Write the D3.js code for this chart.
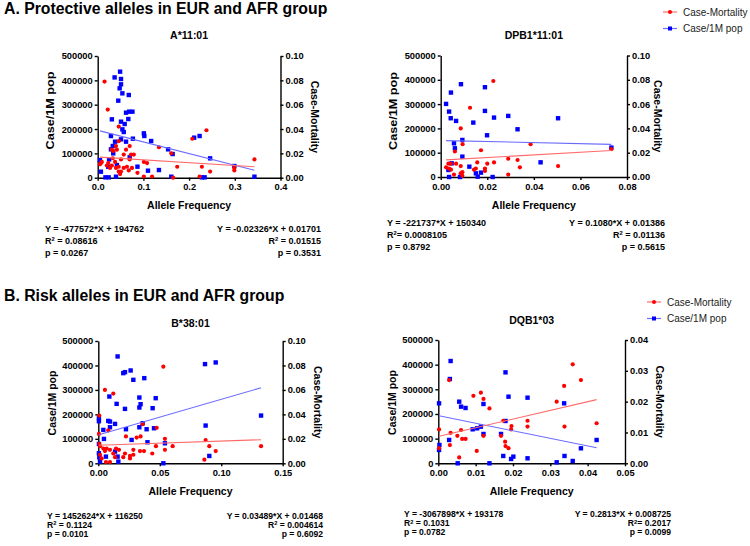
<!DOCTYPE html>
<html>
<head>
<meta charset="utf-8">
<script src="https://cdn.jsdelivr.net/npm/d3@7"></script>
<style>
  body { margin: 0; background: #fff; }
  text { font-family: "Liberation Sans", Arial, sans-serif; fill: #000; }
</style>
</head>
<body>
<svg id="chart" width="750" height="546"></svg>
<script>
// ---- data: [allele frequency, value] ----
const casesA1 = [[0.005,72600],[0.007,24700],[0.017,1400],[0.024,1400],[0.023,45200],[0.037,412000],[0.049,435700],
  [0.051,405500],[0.051,383600],[0.048,367200],[0.054,346600],[0.045,316500],[0.068,339800],[0.031,239800],
  [0.051,230200],[0.059,220600],[0.054,198700],[0.057,187700],[0.029,171300],[0.051,157600],[0.077,160300],
  [0.062,148000],[0.062,267200],[0.069,271300],[0.076,271300],[0.067,241100],[0.033,130200],[0.029,116500],
  [0.034,100000],[0.070,83600],[0.042,52100],[0.040,4100],[0.087,45200],[0.101,182200],[0.102,171300],
  [0.117,150700],[0.110,28800],[0.134,31500],[0.154,116500],[0.164,97300],[0.211,164400],[0.223,171300],
  [0.246,79500],[0.299,48000],[0.343,4100],[0.161,4100],[0.228,1400],[0.234,1400],[0.038,148000],[0.025,75000]];
const mortA1 = [[0.015,0.079],[0.022,0.056],[0.046,0.042],[0.007,0.012],[0.005,0.011],[0.023,0.012],[0.020,0.010],
  [0.031,0.023],[0.034,0.022],[0.040,0.026],[0.042,0.023],[0.046,0.030],[0.062,0.023],[0.070,0.026],[0.073,0.019],
  [0.079,0.019],[0.057,0.019],[0.051,0.015],[0.038,0.013],[0.027,0.008],[0.031,0.010],[0.046,0.009],[0.051,0.005],
  [0.057,0.008],[0.064,0.009],[0.070,0.015],[0.068,0.006],[0.075,0.008],[0.046,0.005],[0.049,0.003],[0.087,0.004],
  [0.101,0.013],[0.108,0.012],[0.101,0.001],[0.119,0.001],[0.134,0.025],[0.174,0.009],[0.161,0.020],[0.165,0.000],
  [0.207,0.032],[0.238,0.039],[0.228,0.009],[0.223,0.001],[0.246,0.005],[0.299,0.008],[0.299,0.006],[0.343,0.015],
  [0.040,0.008],[0.033,0.016],[0.009,0.013]];

const casesA2 = [[0.0023,300800],[0.0036,269200],[0.0044,347500],[0.0043,241800],[0.0066,230800],[0.0087,381900],
  [0.019,369500],[0.019,272000],[0.0229,244500],[0.029,251400],[0.014,223900],[0.033,196400],[0.0199,171700],
  [0.0504,241800],[0.0057,138700],[0.0061,118100],[0.0093,152500],[0.0093,83800],[0.0123,42600],[0.0429,60400],
  [0.0733,120900],[0.0033,28800],[0.0036,0],[0.0083,0],[0.0151,15100],[0.0173,17900],[0.0159,1400],[0.0223,0],
  [0.0047,56300]];
const mortA2 = [[0.0226,0.079],[0.0126,0.057],[0.0086,0.040],[0.0094,0.027],[0.0173,0.022],[0.0061,0.021],
  [0.0386,0.027],[0.0733,0.023],[0.0023,0.008],[0.0033,0.011],[0.0044,0.011],[0.0066,0.011],[0.0086,0.009],
  [0.0036,0.007],[0.0044,0.006],[0.0057,0.002],[0.0086,0.003],[0.0093,0.001],[0.0093,0.004],[0.0157,0.012],
  [0.0143,0.006],[0.019,0.005],[0.019,0.007],[0.020,0.011],[0.0229,0.012],[0.029,0.015],[0.033,0.014],
  [0.034,0.008],[0.0504,0.009],[0.029,0.002],[0.0151,0.007]];

const casesB1 = [[0.0157,436900],[0.0203,368600],[0.0217,372700],[0.0263,379500],[0.0285,341300],[0.0374,348100],
  [0.0868,405500],[0.0955,412300],[0.0090,273000],[0.0334,268900],[0.0467,266200],[0.0149,243000],[0.0344,241600],
  [0.0334,228000],[0.0217,222500],[0.0442,225300],[0.0005,185000],[0.0005,172000],[0.0081,173400],[0.0095,170600],
  [0.0136,161100],[0.0095,147400],[0.0225,139300],[0.0361,163800],[0.0453,143300],[0.0334,147400],[0.0393,139300],
  [0.0041,136500],[0.0046,99700],[0.0271,95600],[0.0400,86000],[0.0542,81900],[0.0873,154300],[0.1324,195200],
  [0.0903,30000],[0.0529,0],[0.0005,41000],[0.0008,24600],[0.0014,6800],[0.0062,27300],[0.0136,47800],
  [0.0163,6800],[0.0157,27300],[0.0005,79200]];
const mortB1 = [[0.0529,0.079],[0.0054,0.060],[0.0122,0.057],[0.0008,0.039],[0.0081,0.027],[0.0361,0.032],
  [0.0475,0.029],[0.0225,0.022],[0.0344,0.022],[0.0312,0.021],[0.0005,0.024],[0.0873,0.019],[0.0542,0.020],
  [0.0008,0.016],[0.0014,0.014],[0.0041,0.012],[0.0068,0.012],[0.0095,0.011],[0.0144,0.012],[0.0168,0.011],
  [0.0217,0.008],[0.0285,0.011],[0.0339,0.010],[0.0372,0.010],[0.0469,0.014],[0.0605,0.014],[0.0542,0.011],
  [0.0439,0.008],[0.0903,0.014],[0.0955,0.010],[0.0863,0.003],[0.1324,0.014],[0.0014,0.007],[0.0027,0.004],
  [0.0062,0.001],[0.0095,0.001],[0.0136,0.005],[0.0203,0.005],[0.0258,0.004],[0.0285,0.007],[0.0122,0.008],
  [0.0054,0.010],[0.0258,0.006]];

const casesB2 = [[0.0033,414800],[0.0031,341800],[0.0002,243200],[0.0056,249900],[0.0061,229700],[0.0073,224300],
  [0.018,368800],[0.0188,270200],[0.0239,266100],[0.0337,243200],[0.0121,240500],[0.018,171600],[0.0092,137800],
  [0.0104,141900],[0.0114,148600],[0.0121,118900],[0.0168,118900],[0.0029,94600],[0.0003,74300],[0.0002,54000],
  [0.0424,94600],[0.0382,60800],[0.0174,29700],[0.0195,17600],[0.0201,27000],[0.0239,20300],[0.0338,29700],
  [0.0317,4100],[0.036,9500],[0.0052,0],[0.0137,0]];
const mortB2 = [[0.036,0.0321],[0.0029,0.0270],[0.0382,0.0270],[0.0337,0.0251],[0.0094,0.0219],[0.0114,0.0229],
  [0.0121,0.0209],[0.0137,0.0178],[0.0317,0.0200],[0.0424,0.0130],[0.0174,0.0138],[0.0239,0.0138],[0.0239,0.0119],
  [0.0338,0.0119],[0.0002,0.0110],[0.0061,0.0108],[0.0033,0.0099],[0.0196,0.0121],[0.0195,0.0110],[0.0121,0.0089],
  [0.0051,0.0089],[0.0064,0.0079],[0.0073,0.0079],[0.0168,0.0089],[0.0179,0.0070],[0.018,0.0056],[0.0188,0.0049],
  [0.0031,0.0059],[0.0002,0.0049],[0.0103,0.0040],[0.0056,0.0019]];

// linear fits [slope, intercept]
const fitsCases = [[-477572, 194762], [-221737, 150340], [1452624, 116250], [-3067898, 193178]];
const fitsMort = [[-0.02326, 0.01701], [0.1080, 0.01386], [0.03489, 0.01468], [0.2813, 0.008725]];

const titles = ["A*11:01", "DPB1*11:01", "B*38:01", "DQB1*03"];
const xMaxes = [0.4, 0.08, 0.15, 0.05];
const xTickSteps = [0.1, 0.02, 0.05, 0.01];
const mortMaxes = [0.10, 0.10, 0.10, 0.04];
const mortTickSteps = [0.02, 0.02, 0.02, 0.01];
const casesTicks = [0, 100000, 200000, 300000, 400000, 500000];

const statsLeft = [
  ["Y = -477572*X + 194762", " = 0.08616", "p = 0.0267"],
  ["Y = -221737*X + 150340", "= 0.0008105", "p = 0.8792"],
  ["Y = 1452624*X + 116250", " = 0.1124", "p = 0.0101"],
  ["Y = -3067898*X + 193178", " = 0.1031", "p = 0.0782"]
];
const statsRight = [
  ["Y = -0.02326*X + 0.01701", " = 0.01515", "p = 0.3531"],
  ["Y = 0.1080*X + 0.01386", " = 0.01136", "p = 0.5615"],
  ["Y = 0.03489*X + 0.01468", " = 0.004614", "p = 0.6092"],
  ["Y = 0.2813*X + 0.008725", "= 0.2017", "p = 0.0099"]
];
const headings = ["A. Protective alleles in EUR and AFR group", "B. Risk alleles in EUR and AFR group"];
const legendLabels = ["Case-Mortality", "Case/1M pop"];

// ---- layout ----
const RED = "#ff0000", BLUE = "#0000ff", RED_LINE = "#ff6b6b", BLUE_LINE = "#6b6bff";
const layouts = [
  {x0: 97.7, x1: 280.5, y0: 56, y1: 177.7, titleY: 39, ylabX: 50, ylabY: 110.5, ylabLen: 78, rlabX: 315, xlabY: 209,
    statL: 45, statR: 321, statY: 232, statDy: 12, statFs: 9, xFmt: ".1f"},
  {x0: 440.7, x1: 627, y0: 55.5, y1: 177, titleY: 39, ylabX: 393, ylabY: 111, ylabLen: 78, rlabX: 658, xlabY: 209,
    statL: 387, statR: 665, statY: 226, statDy: 12, statFs: 9, xFmt: ".2f"},
  {x0: 98.3, x1: 282.7, y0: 341, y1: 463.3, titleY: 327, ylabX: 52, ylabY: 403, ylabLen: 0, rlabX: 318, xlabY: 495,
    statL: 47, statR: 323, statY: 518.5, statDy: 9.2, statFs: 8.6, xFmt: ".2f"},
  {x0: 438.3, x1: 625, y0: 340, y1: 463.3, titleY: 324, ylabX: 392, ylabY: 402.5, ylabLen: 0, rlabX: 660, xlabY: 495,
    statL: 404, statR: 671, statY: 517, statDy: 9.2, statFs: 8.6, xFmt: ".2f"}
];
const casesData = [casesA1, casesA2, casesB1, casesB2];
const mortData = [mortA1, mortA2, mortB1, mortB2];

const svg = d3.select("#chart");

// headings
svg.selectAll(".heading")
  .data(headings)
  .join("text")
  .attr("class", "heading")
  .attr("x", 4)
  .attr("y", (d, i) => i === 0 ? 14 : 301)
  .style("font-size", "15.8px")
  .style("font-weight", "bold")
  .text(d => d);

function range(step, max) {
  return d3.range(0, Math.round(max / step) + 1).map(i => +(i * step).toFixed(4));
}

layouts.forEach((L, i) => {
  const g = svg.append("g");
  const x = d3.scaleLinear().domain([0, xMaxes[i]]).range([L.x0, L.x1]);
  const yC = d3.scaleLinear().domain([0, 500000]).range([L.y1, L.y0]);
  const yM = d3.scaleLinear().domain([0, mortMaxes[i]]).range([L.y1, L.y0]);

  const styleAxis = sel => {
    sel.select(".domain").attr("stroke", "#000").attr("stroke-width", 1.4);
    sel.selectAll(".tick line").attr("stroke", "#000").attr("stroke-width", 1.4);
    sel.selectAll(".tick text")
      .style("font-size", "9.3px").style("font-weight", "bold")
      .style("font-family", "'Liberation Sans', Arial, sans-serif");
  };

  g.append("g").attr("transform", `translate(0,${L.y1})`)
    .call(d3.axisBottom(x).tickValues(range(xTickSteps[i], xMaxes[i])).tickFormat(d3.format(L.xFmt))
      .tickSizeInner(3).tickSizeOuter(0).tickPadding(3))
    .call(styleAxis);
  g.append("g").attr("transform", `translate(${L.x0},0)`)
    .call(d3.axisLeft(yC).tickValues(casesTicks).tickFormat(d3.format("d"))
      .tickSizeInner(3).tickSizeOuter(0).tickPadding(2))
    .call(styleAxis);
  g.append("g").attr("transform", `translate(${L.x1},0)`)
    .call(d3.axisRight(yM).tickValues(range(mortTickSteps[i], mortMaxes[i])).tickFormat(d3.format(".2f"))
      .tickSizeInner(3).tickSizeOuter(0).tickPadding(2))
    .call(styleAxis);

  // titles
  const cx = (L.x0 + L.x1) / 2, cy = (L.y0 + L.y1) / 2;
  g.append("text").attr("x", cx).attr("y", L.titleY).attr("text-anchor", "middle")
    .style("font-size", "10.5px").style("font-weight", "bold").text(titles[i]);
  g.append("text").attr("x", cx).attr("y", L.xlabY).attr("text-anchor", "middle")
    .style("font-size", "10.5px").style("font-weight", "bold").text("Allele Frequency");
  const yl = g.append("text").attr("transform", `translate(${L.ylabX + 3.7},${L.ylabY}) rotate(-90)`)
    .attr("text-anchor", "middle")
    .style("font-size", L.ylabLen ? "11px" : "10.5px").style("font-weight", "bold").text("Case/1M pop");
  if (L.ylabLen) yl.attr("textLength", L.ylabLen).attr("lengthAdjust", "spacingAndGlyphs");
  g.append("text").attr("transform", `translate(${L.rlabX - 3.7},${cy}) rotate(90)`).attr("text-anchor", "middle")
    .style("font-size", "10.5px").style("font-weight", "bold").text("Case-Mortality");

  // points
  g.selectAll(".sq").data(casesData[i]).join("rect")
    .attr("x", d => x(d[0]) - 2.2).attr("y", d => yC(d[1]) - 2.2)
    .attr("width", 4.4).attr("height", 4.4).attr("fill", BLUE);
  g.selectAll(".dot").data(mortData[i]).join("circle")
    .attr("cx", d => x(d[0])).attr("cy", d => yM(d[1])).attr("r", 2.1).attr("fill", RED);

  // regression lines over the extent of each series
  const cExt = d3.extent(casesData[i], d => d[0]);
  const mExt = d3.extent(mortData[i], d => d[0]);
  const [cs, ci] = fitsCases[i], [ms, mi] = fitsMort[i];
  g.append("line")
    .attr("x1", x(cExt[0])).attr("y1", yC(cs * cExt[0] + ci))
    .attr("x2", x(cExt[1])).attr("y2", yC(cs * cExt[1] + ci))
    .attr("stroke", BLUE_LINE).attr("stroke-width", 1.1);
  g.append("line")
    .attr("x1", x(mExt[0])).attr("y1", yM(ms * mExt[0] + mi))
    .attr("x2", x(mExt[1])).attr("y2", yM(ms * mExt[1] + mi))
    .attr("stroke", RED_LINE).attr("stroke-width", 1.1);

  // stats text
  const statBlock = (lines, xPos, anchor) => {
    lines.forEach((s, k) => {
      const t = g.append("text").attr("x", xPos).attr("y", L.statY + k * L.statDy)
        .attr("text-anchor", anchor)
        .style("font-size", L.statFs + "px").style("font-weight", "bold");
      if (k === 1) {
        t.append("tspan").text("R");
        t.append("tspan").attr("dy", -2.6).style("font-size", "5.8px").text("2");
        t.append("tspan").attr("dy", 2.6).text(s);
      } else {
        t.text(s);
      }
    });
  };
  statBlock(statsLeft[i], L.statL, "start");
  statBlock(statsRight[i], L.statR, "end");
});

// legends
const legendPos = [{x: 670, y: 12, tx: 683}, {x: 654, y: 302, tx: 667}];
legendPos.forEach(p => {
  const lg = svg.append("g");
  legendLabels.forEach((lab, k) => {
    const yy = p.y + k * 16.5;
    lg.append("line").attr("x1", p.x - 7).attr("x2", p.x + 7).attr("y1", yy).attr("y2", yy)
      .attr("stroke", k === 0 ? RED_LINE : BLUE_LINE).attr("stroke-width", 1.2);
    if (k === 0) {
      lg.append("circle").attr("cx", p.x).attr("cy", yy).attr("r", 2).attr("fill", RED);
    } else {
      lg.append("rect").attr("x", p.x - 2).attr("y", yy - 2).attr("width", 4).attr("height", 4).attr("fill", BLUE);
    }
    lg.append("text").attr("x", p.tx).attr("y", yy + 3.5)
      .style("font-size", "10px").style("fill", "#222").text(lab);
  });
});
</script>
</body>
</html>
